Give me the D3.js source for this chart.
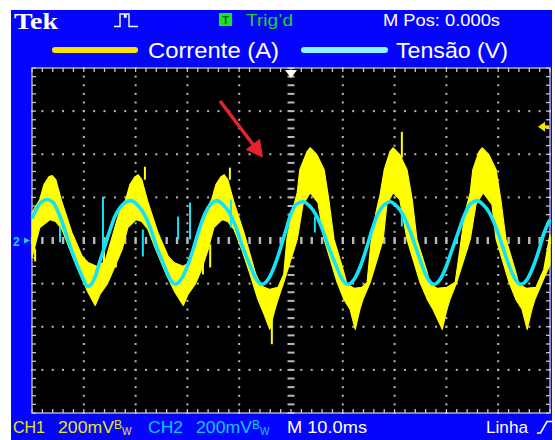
<!DOCTYPE html>
<html>
<head>
<meta charset="utf-8">
<script src="https://cdn.jsdelivr.net/npm/d3@7"></script>
<style>
  html, body { margin: 0; padding: 0; background: #ffffff; }
  svg { display: block; }
  text { font-family: "Liberation Sans", Arial, sans-serif; }
</style>
</head>
<body>
<svg id="scope" width="555" height="440"></svg>
<script>
// ---- Readings (time in ms across the 10 divisions, amplitude in mV, 200 mV/div) ----

// CH1 current trace: the noisy trace fills a band; upper edge and lower edge
const correnteTopo = [
  [0.0,129],[1.5,190],[2.3,259],[3.3,296],[3.9,301],[4.6,282],[5.8,176],[7.7,37],[9.7,-74],
  [10.8,-102],[12.5,-120],[14.1,-97],[17.0,143],[18.1,190],[18.9,259],[19.9,296],[20.5,305],
  [21.2,282],[22.4,176],[24.3,37],[26.3,-74],[27.4,-102],[29.2,-120],[30.7,-97],[33.6,143],
  [34.7,190],[35.5,259],[36.5,296],[37.1,305],[37.8,282],[39.0,176],[40.9,37],[42.1,-65],
  [43.2,-157],[44.4,-213],[45.9,-227],[47.5,-217],[48.6,-157],[49.2,5],[50.2,129],[51.2,222],
  [51.7,328],[53.1,412],[53.7,430],[55.0,398],[56.4,328],[57.3,190],[58.3,5],[58.9,-42],
  [60.2,-148],[60.8,-203],[62.2,-222],[63.7,-217],[64.7,-194],[65.4,-18],[66.4,129],[67.2,213],
  [68.0,328],[69.1,412],[69.7,430],[71.0,398],[72.4,328],[73.4,190],[74.3,5],[74.9,-42],
  [76.3,-148],[76.8,-203],[78.2,-222],[80.1,-217],[81.7,-194],[82.6,-42],[83.6,129],[84.6,222],
  [85.1,328],[86.3,412],[86.9,430],[88.2,398],[89.6,328],[90.5,190],[91.5,5],[92.1,-42],
  [93.4,-148],[94.0,-203],[95.4,-222],[97.3,-217],[98.8,-134],[100.0,28]
];
const correnteBase = [
  [0.0,-79],[0.4,-42],[1.5,60],[3.5,97],[4.6,88],[5.8,51],[7.3,-42],[9.3,-157],[10.8,-240],
  [12.2,-301],[13.1,-250],[14.5,-203],[15.6,-143],[17.4,-42],[18.5,60],[20.1,97],[21.2,88],
  [22.4,51],[23.9,-42],[25.9,-157],[27.6,-240],[29.2,-301],[30.1,-250],[31.5,-203],[32.6,-143],
  [34.0,-42],[35.1,60],[36.7,97],[37.8,88],[39.0,51],[40.5,-42],[42.1,-157],[43.6,-273],
  [44.8,-342],[45.9,-412],[46.9,-319],[47.5,-273],[48.6,-194],[51.2,5],[52.3,166],[53.7,222],
  [55.2,176],[56.4,5],[58.9,-194],[60.2,-273],[61.4,-319],[62.4,-412],[63.3,-319],[63.9,-273],
  [65.3,-194],[67.8,5],[68.5,166],[69.7,222],[71.0,190],[72.4,5],[74.9,-194],[76.3,-273],
  [77.4,-319],[79.2,-412],[80.1,-319],[80.7,-273],[82.0,-194],[84.6,5],[85.7,166],[87.1,222],
  [88.8,166],[89.6,5],[92.1,-194],[93.4,-273],[94.6,-319],[95.6,-412],[96.5,-319],[97.1,-273],
  [98.5,-194],[100.0,-111]
];
// isolated glitches on CH1: [time, top, bottom]
const correnteGlitches = [
  [0.6,-42,-97],[13.9,-42,-143],[15.1,-65,-162],[16.2,-18,-125],[21.8,342,282],
  [33.0,-42,-157],[34.4,-18,-125],[38.2,338,282],[46.3,-365,-481],[71.4,504,384],[84.0,51,-42]
];

// CH2 voltage trace
const tensao = [
  [0.0,102],[0.8,143],[1.7,176],[2.9,190],[4.1,176],[5.0,134],[6.0,74],[7.1,-9],[8.3,-88],
  [9.5,-157],[10.8,-213],[12.0,-180],[13.1,-97],[14.1,-23],[15.1,51],[16.0,111],[17.0,153],
  [18.0,176],[19.1,185],[20.3,166],[21.6,125],[22.8,60],[24.1,-32],[25.5,-116],[26.6,-176],
  [27.6,-203],[28.8,-180],[29.9,-125],[31.1,-42],[32.2,46],[33.4,125],[34.6,171],[35.7,185],
  [36.9,166],[38.2,125],[39.4,60],[40.7,-32],[42.1,-116],[43.2,-176],[44.4,-203],[45.6,-180],
  [46.7,-125],[47.9,-42],[49.0,46],[50.0,125],[51.2,171],[52.3,180],[53.5,162],[54.8,120],
  [56.0,55],[57.3,-32],[58.7,-116],[59.8,-176],[61.0,-203],[62.2,-180],[63.3,-125],[64.5,-42],
  [65.6,46],[66.8,125],[68.0,166],[69.1,180],[70.3,162],[71.6,120],[72.8,55],[74.1,-32],
  [75.3,-116],[76.4,-176],[77.6,-203],[78.8,-180],[79.9,-125],[81.1,-42],[82.4,46],[83.6,125],
  [84.7,171],[85.9,185],[87.1,166],[88.4,125],[89.6,60],[90.9,-32],[92.1,-116],[93.2,-176],
  [94.4,-203],[95.6,-180],[96.7,-125],[97.9,-42],[98.8,32],[100.0,97]
];
const tensaoGlitches = [
  [5.4,65,-9],[13.7,203,-42],[21.4,51,-74],[28.2,111,5],[30.5,176,5],[38.4,190,60],
  [54.6,111,37],[71.4,129,65]
];

// Graticule and screen readouts
const divisoesTempo = [0,10,20,30,40,50,60,70,80,90,100];
const divisoesAmplitude = [-800,-600,-400,-200,0,200,400,600,800];
const nivelTrigger = 527;        // CH1 trigger level, mV
const seta = [[36.3,647],[44.6,384]];  // red arrow: tail, tip
const legenda = ["Corrente (A)", "Tensão (V)"];

// ---- Drawing ----
const svg = d3.select("#scope");
const x = d3.scaleLinear().domain([0, 100]).range([32, 550]);
const y = d3.scaleLinear().domain([-800, 800]).range([413, 68]);
const minorT = d3.range(0, 100.001, 2);
const minorV = d3.range(-800, 800.001, 40);

const YELLOW = "#ffff00", CYAN = "#14e2f5", GRID = "#b9b9b9";

// blue screen frame
svg.append("rect").attr("x", 11).attr("y", 10).attr("width", 541).attr("height", 430).attr("fill", "#0505fb");
svg.append("rect").attr("x", x(0)).attr("y", y(800)).attr("width", x(100) - x(0)).attr("height", y(-800) - y(800)).attr("fill", "#000");

const grid = svg.append("g").attr("fill", GRID);
// dotted vertical division lines
divisoesTempo.filter(t => t > 0 && t < 100 && t !== 50).forEach(t => {
  minorV.forEach(v => grid.append("rect").attr("x", x(t) - 1).attr("y", y(v) - 1).attr("width", 2).attr("height", 2));
});
// dotted horizontal division lines
divisoesAmplitude.filter(v => v > -800 && v < 800 && v !== 0).forEach(v => {
  minorT.forEach(t => grid.append("rect").attr("x", x(t) - 1).attr("y", y(v) - 1).attr("width", 2).attr("height", 2));
});
// centre cross with dashed ticks
minorV.forEach(v => grid.append("rect").attr("x", x(50) - 3.5).attr("y", y(v) - 1).attr("width", 7).attr("height", 2));
minorT.forEach(t => grid.append("rect").attr("x", x(t) - 1.2).attr("y", y(0) - 3.5).attr("width", 2.4).attr("height", 7));

// border with minor ticks
const border = svg.append("g").attr("stroke", "#c8c8c8").attr("stroke-width", 1.3);
border.append("rect").attr("x", x(0)).attr("y", y(800)).attr("width", x(100) - x(0)).attr("height", y(-800) - y(800)).attr("fill", "none");
minorV.forEach(v => {
  border.append("line").attr("x1", x(0)).attr("x2", x(0) + 4).attr("y1", y(v)).attr("y2", y(v));
  border.append("line").attr("x1", x(100) - 4).attr("x2", x(100)).attr("y1", y(v)).attr("y2", y(v));
});
minorT.forEach(t => {
  border.append("line").attr("x1", x(t)).attr("x2", x(t)).attr("y1", y(800)).attr("y2", y(800) + 4);
  border.append("line").attr("x1", x(t)).attr("x2", x(t)).attr("y1", y(-800) - 4).attr("y2", y(-800));
});

// CH1 band
const bandPts = correnteTopo.concat(correnteBase.slice().reverse());
const lineGen = d3.line().x(d => x(d[0])).y(d => y(d[1]));
svg.append("path").attr("d", lineGen(bandPts) + "Z")
  .attr("fill", YELLOW).attr("stroke", YELLOW).attr("stroke-width", 1.2).attr("stroke-linejoin", "round");
svg.append("g").selectAll("line").data(correnteGlitches).join("line")
  .attr("x1", d => x(d[0])).attr("x2", d => x(d[0]))
  .attr("y1", d => y(d[1])).attr("y2", d => y(d[2]))
  .attr("stroke", YELLOW).attr("stroke-width", 2);

// CH2 trace
svg.append("path").attr("d", d3.line().x(d => x(d[0])).y(d => y(d[1])).curve(d3.curveMonotoneX)(tensao))
  .attr("fill", "none").attr("stroke", CYAN).attr("stroke-width", 3.6).attr("stroke-linejoin", "round");
svg.append("g").selectAll("line").data(tensaoGlitches).join("line")
  .attr("x1", d => x(d[0])).attr("x2", d => x(d[0]))
  .attr("y1", d => y(d[1])).attr("y2", d => y(d[2]))
  .attr("stroke", CYAN).attr("stroke-width", 2);

// trigger position marker (top centre)
const tx = x(50);
svg.append("path").attr("d", `M${tx - 6},${y(800) + 2}H${tx + 6}L${tx},${y(800) + 10}Z`).attr("fill", "#fff");
// trigger level marker (right)
const ty = y(nivelTrigger);
svg.append("path").attr("d", `M${x(100) - 12},${ty}L${x(100) - 5},${ty - 5}V${ty + 5}Z`).attr("fill", "#f2e600");
svg.append("rect").attr("x", x(100) - 7).attr("y", ty - 1.5).attr("width", 6).attr("height", 3).attr("fill", "#f2e600");
// CH2 ground marker (left)
svg.append("text").attr("x", 13).attr("y", y(0) + 5).attr("font-size", 12).attr("font-weight", "bold")
  .attr("fill", "#22ccff").text("2");
svg.append("path").attr("d", `M${x(0) - 8},${y(0) - 3}L${x(0) - 2},${y(0)}L${x(0) - 8},${y(0) + 3}Z`).attr("fill", "#22ccff");

// red arrow annotation
const [a0, a1] = seta.map(p => [x(p[0]), y(p[1])]);
const dx = a1[0] - a0[0], dy = a1[1] - a0[1], len = Math.hypot(dx, dy);
const ux = dx / len, uy = dy / len, hl = 17, hw = 9;
const bx = a1[0] - ux * hl, by = a1[1] - uy * hl;
svg.append("line").attr("x1", a0[0]).attr("y1", a0[1]).attr("x2", bx + ux * 2).attr("y2", by + uy * 2)
  .attr("stroke", "#e8222c").attr("stroke-width", 3.5);
svg.append("path").attr("d", `M${a1[0]},${a1[1]}L${bx - uy * hw},${by + ux * hw}L${bx + uy * hw},${by - ux * hw}Z`)
  .attr("fill", "#e8222c");

// text helper: fixed width, glyphs scaled to fit
function label(xPos, yPos, size, color, len, str, extra) {
  const t = svg.append("text").attr("x", xPos).attr("y", yPos).attr("font-size", size).attr("fill", color)
    .attr("textLength", len).attr("lengthAdjust", "spacingAndGlyphs").text(str);
  if (extra) extra(t);
  return t;
}

// ---- header readouts ----
label(14, 29, 23, "#fff", 44, "Tek", t => t.style("font-family", "'Liberation Serif', 'DejaVu Serif', serif").attr("font-weight", "bold"));
// acquisition icon
svg.append("path").attr("d", "M114,26.5H120V14H124.5V17H126V14H129V26.5H138")
  .attr("fill", "none").attr("stroke", "#fff").attr("stroke-width", 1.4);
svg.append("rect").attr("x", 219).attr("y", 13).attr("width", 13).attr("height", 13).attr("fill", "#19e619");
svg.append("text").attr("x", 225.5).attr("y", 24).attr("text-anchor", "middle").attr("font-size", 11)
  .attr("font-weight", "bold").attr("fill", "#063").text("T");
label(246, 25.5, 16, "#1fd41f", 47, "Trig’d");
label(383, 25.5, 16, "#fff", 117, "M Pos: 0.000s");

// legend
svg.append("line").attr("x1", 55).attr("x2", 135).attr("y1", 50).attr("y2", 50)
  .attr("stroke", "#ffe400").attr("stroke-width", 6).attr("stroke-linecap", "round");
label(148, 57.5, 22, "#fff", 131, legenda[0]);
svg.append("line").attr("x1", 304).attr("x2", 385).attr("y1", 50).attr("y2", 50)
  .attr("stroke", "#8cf6ff").attr("stroke-width", 6).attr("stroke-linecap", "round");
label(396, 57.5, 22, "#fff", 112, legenda[1]);

// ---- footer readouts ----
function escala(xPos, color, len) {
  const t = svg.append("text").attr("x", xPos).attr("y", 433).attr("font-size", 17).attr("fill", color);
  t.append("tspan").attr("textLength", len).attr("lengthAdjust", "spacingAndGlyphs").text("200mV");
  t.append("tspan").attr("font-size", 12).attr("dy", -4).text("B");
  t.append("tspan").attr("font-size", 10).attr("dy", 6).text("W");
}
label(13, 433, 17, "#e3e31c", 32, "CH1");
escala(58, "#e3e31c", 56);
label(148, 433, 17, "#10c8ff", 35, "CH2");
escala(196, "#10c8ff", 56);
label(287, 433, 17, "#fff", 80, "M 10.0ms");
label(486, 433, 17, "#fff", 42, "Linha");
svg.append("path").attr("d", "M537,433H540.5L547,421.5H552").attr("fill", "none").attr("stroke", "#fff").attr("stroke-width", 1.6);
</script>
</body>
</html>
